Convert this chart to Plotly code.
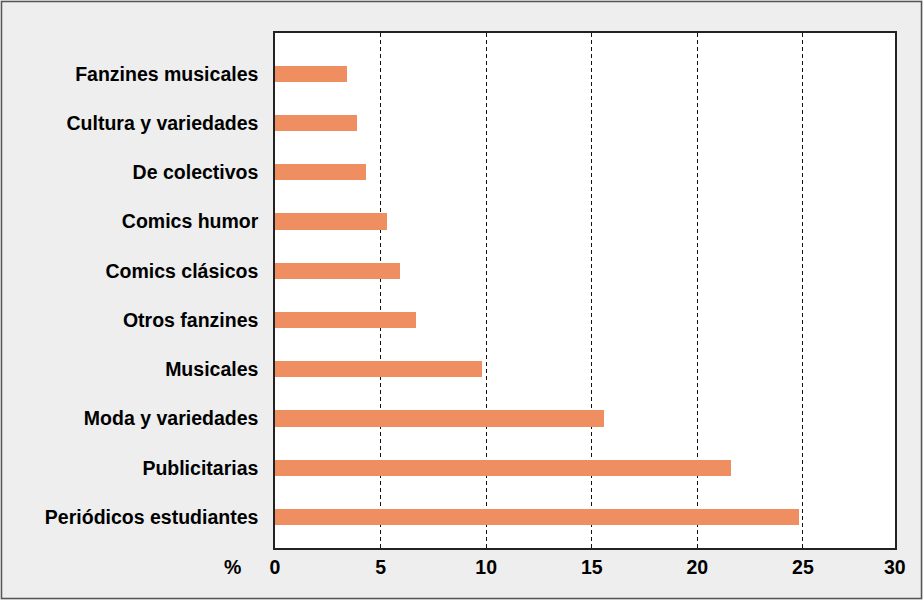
import plotly.graph_objects as go

categories = ["Periódicos estudiantes", "Publicitarias", "Moda y variedades", "Musicales",
              "Otros fanzines", "Comics clásicos", "Comics humor", "De colectivos",
              "Cultura y variedades", "Fanzines musicales"]
values = [24.8, 21.6, 15.6, 9.8, 6.7, 5.9, 5.3, 4.3, 3.9, 3.4]
x_ticks = [0, 5, 10, 15, 20, 25]
x_last_tick = "30"
axis_unit = "%"

W, H = 923, 600
L, R, T, B = 275, 895, 33, 548

def px(xp):
    return (xp - L) / (R - L)

def py(yp):
    return (B - yp) / (B - T)

FS = 19.5
font = dict(family="Liberation Sans, Arial, sans-serif", size=FS, color="black")
bold_font = dict(family="Liberation Sans, Arial, sans-serif", size=FS, color="black", weight="bold")

fig = go.Figure(go.Bar(
    y=list(range(len(categories))), x=values, orientation="h",
    width=0.33, marker=dict(color="#EF8E61", line=dict(width=0)),
))

fig.update_layout(
    width=W, height=H,
    margin=dict(l=L, r=W - R, t=T, b=H - B, pad=0),
    paper_bgcolor="#EEEEEE", plot_bgcolor="white",
    showlegend=False, bargap=0,
    font=font,
    xaxis=dict(range=[0, 29.36], tickvals=x_ticks, ticktext=[str(v) for v in x_ticks],
               showgrid=True, gridcolor="#111", gridwidth=1.2, griddash="4px,3px",
               zeroline=False, showline=True, linecolor="#222", linewidth=1.5, mirror=True,
               ticks="outside", ticklen=1, tickcolor="rgba(0,0,0,0)",
               tickfont=bold_font),
    yaxis=dict(range=[-0.63, 9.83], tickvals=list(range(len(categories))), ticktext=categories,
               showgrid=False, zeroline=False, showline=True, linecolor="#222", linewidth=1.5, mirror=True,
               ticks="outside", ticklen=11, tickcolor="rgba(0,0,0,0)",
               tickfont=bold_font),
)

fig.add_annotation(text="<b>%s</b>" % axis_unit, xref="paper", yref="paper", x=px(232), y=py(567),
                   showarrow=False, font=font, xanchor="center", yanchor="middle")
fig.add_annotation(text="<b>%s</b>" % x_last_tick, xref="paper", yref="paper", x=1, y=py(567),
                   showarrow=False, font=font, xanchor="center", yanchor="middle")

fig.add_shape(type="rect", xref="paper", yref="paper",
              x0=px(1.5), x1=px(921.5), y0=py(598.5), y1=py(1.5),
              line=dict(color="#555555", width=1.5), fillcolor="rgba(0,0,0,0)", layer="below")

fig.write_html("out.html", config={"displayModeBar": False},
               post_script="document.body.style.margin='0';")
